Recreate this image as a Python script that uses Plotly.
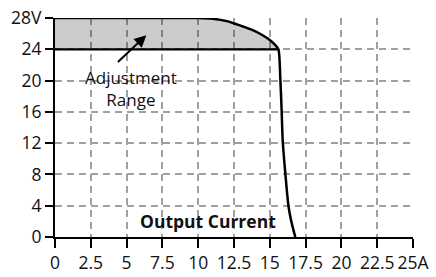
import plotly.graph_objects as go

# Data
curve_x = [0, 5, 10, 11, 12, 12.5, 13, 14, 14.5, 15, 15.3, 15.6,
           15.74, 15.83, 15.9, 16.09, 16.3, 16.5, 16.78]
curve_y = [28, 28, 28, 27.9, 27.6, 27.3, 27.0, 26.3, 25.8, 25.2, 24.7, 24.0,
           20, 16, 12.4, 8, 4, 2, 0]
range_top_count = 12  # points of the curve that bound the adjustment range
base_x = [0, 15.6]
base_y = [24, 24]

x_ticks = [0, 2.5, 5, 7.5, 10, 12.5, 15, 17.5, 20, 22.5, 25]
x_labels = ["0", "2.5", "5", "7.5", "10", "12.5", "15", "17.5", "20", "22.5", "25A"]
y_ticks = [0, 4, 8, 12, 16, 20, 24, 28]
y_labels = ["0", "4", "8", "12", "16", "20", "24", "28V"]

FONT = "Open Sans"

fig = go.Figure()
fig.add_trace(go.Scatter(x=base_x, y=base_y, mode="lines",
                         line=dict(color="black", width=2.2), showlegend=False,
                         hoverinfo="skip"))
fig.add_trace(go.Scatter(x=curve_x[:range_top_count], y=curve_y[:range_top_count],
                         mode="lines", line=dict(width=0), fill="tonexty",
                         fillcolor="rgba(0,0,0,0.2)", showlegend=False,
                         hoverinfo="skip"))
fig.add_trace(go.Scatter(x=curve_x, y=curve_y, mode="lines",
                         line=dict(color="black", width=2.5, shape="spline", smoothing=0.6),
                         showlegend=False))

grid = dict(showgrid=True, gridcolor="#a0a0a0", gridwidth=1.5, griddash="7px,5px")
fig.update_xaxes(range=[0, 25], tickvals=x_ticks, ticktext=x_labels,
                 showline=True, linecolor="black", linewidth=2.2,
                 ticks="outside", ticklen=9, tickwidth=2, tickcolor="black",
                 zeroline=False, fixedrange=True, automargin=False,
                 ticklabeloverflow="allow",
                 tickfont=dict(family=FONT, size=17.5, color="#111"), **grid)
fig.update_yaxes(range=[0, 28], tickvals=y_ticks, ticktext=y_labels,
                 showline=True, linecolor="black", linewidth=2.2,
                 ticks="outside", ticklen=8, tickwidth=2, tickcolor="black",
                 zeroline=False, fixedrange=True, automargin=False,
                 ticklabeloverflow="allow",
                 tickfont=dict(family=FONT, size=17.5, color="#111"), **grid)

fig.add_annotation(x=6.38, y=25.8, ax=4.29, ay=22.2, axref="x", ayref="y",
                   xref="x", yref="y", text="", showarrow=True,
                   arrowhead=2, arrowsize=1.2, arrowwidth=2, arrowcolor="black")
fig.add_annotation(x=5.3, y=19.0, text="Adjustment<br>Range", showarrow=False,
                   font=dict(family=FONT, size=17, color="#111"))
fig.add_annotation(x=10.7, y=2.0, text="<b>Output Current</b>", showarrow=False,
                   font=dict(family=FONT, size=17.5, color="#111"))

fig.update_layout(width=436, height=277, margin=dict(l=55, r=23, t=18, b=40),
                  plot_bgcolor="white", paper_bgcolor="white")

# remove the browser's default 8px page margin; hide the modebar
fig.write_html("out.html", config={"displayModeBar": False},
               post_script="document.body.style.margin='0';")
